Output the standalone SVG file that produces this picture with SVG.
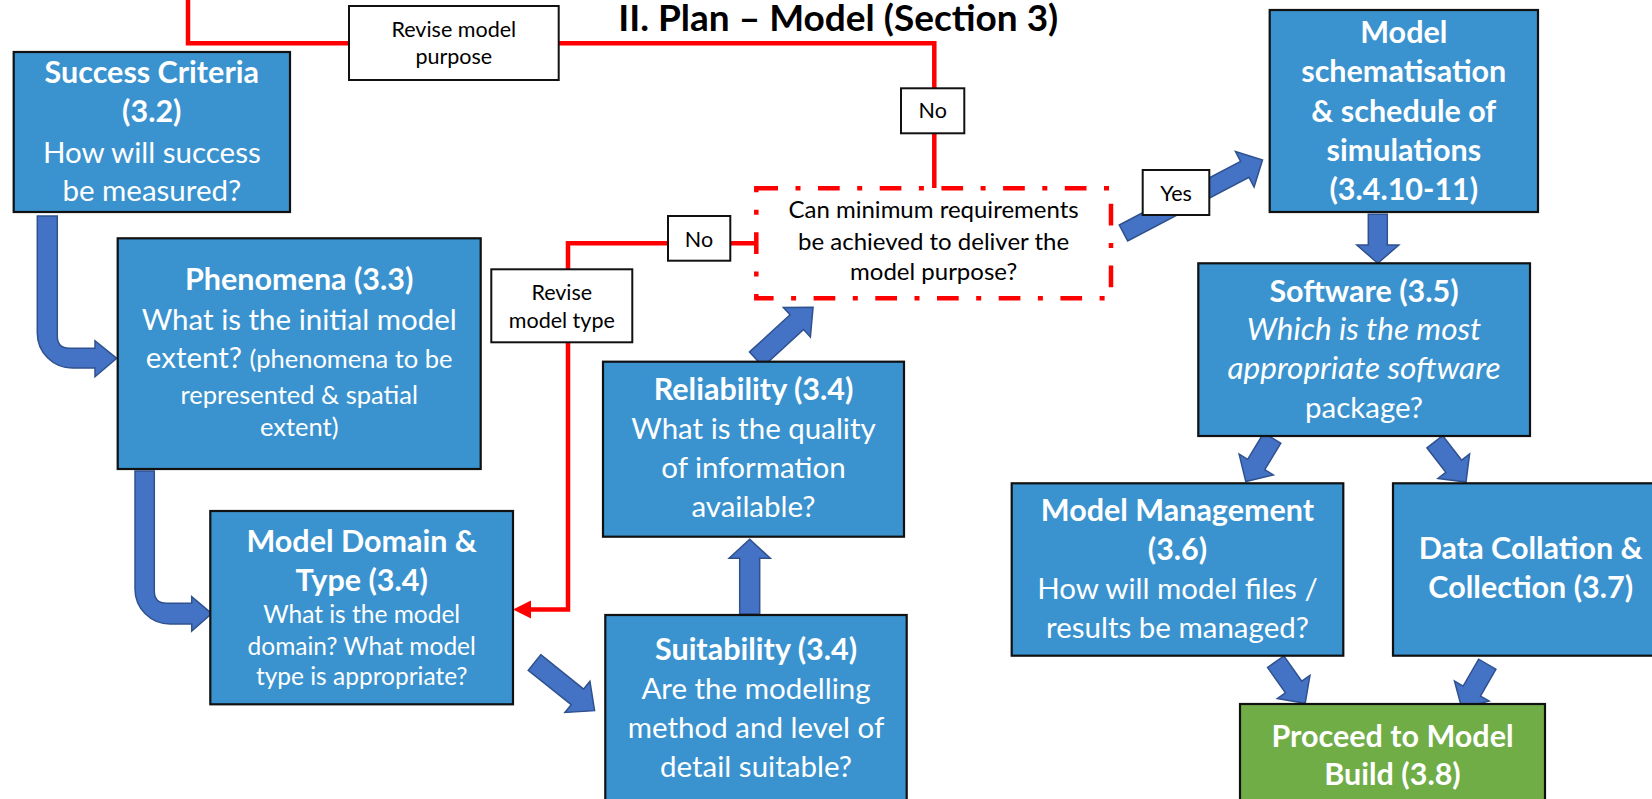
<svg xmlns="http://www.w3.org/2000/svg" width="1652" height="799" viewBox="0 0 1652 799">
<style>
.box{fill:#3A93CF;stroke:#111;stroke-width:2.2}
.green{fill:#70AD47;stroke:#111;stroke-width:2.2}
.lbl{fill:#fff;stroke:#111;stroke-width:2}
.red{fill:none;stroke:#FF0000;stroke-width:4.5}
.dash{fill:none;stroke:#FF0000;stroke-width:4.5;stroke-dasharray:21.7 17.5 5 17.5}
.arr{fill:#4472C4;stroke:#2F528F;stroke-width:1.5;stroke-linejoin:miter}
text{font-family:Lato,"Open Sans","Liberation Sans",sans-serif;text-anchor:middle}
.w{fill:#fff;font-size:29.5px}
.b{font-weight:bold;font-size:30.5px}
.s{font-size:25.5px}
.d{font-size:24.5px}
.i{font-style:italic;font-size:31.5px}
.k{fill:#000;font-size:21.5px}
.q{fill:#000;font-size:24px}
.t{fill:#000;font-size:37px;font-weight:bold}
</style>
<defs>
<path id="a77" d="M0,-10H55V-20L77,0L55,20V10H0Z"/>
<path id="a51" d="M0,-10H31V-20L51,0L31,20V10H0Z"/>
</defs>
<text class="t" x="838.3" y="31">II. Plan – Model (Section 3)</text>
<g id="connectors">
<path class="red" d="M188,-5V43.3H934.3V188"/>
<path class="red" d="M756,243.3H568V609.5H528"/>
<polygon fill="#FF0000" points="513,609.5 531,600.5 531,618.5"/>
<path class="arr" d="M37.3,216H57.3V336Q57.3,348.3 69.5,348.3H95V340.7L116.7,358.3L95,376.7V368H72.3A35,35 0 0 1 37.3,333Z"/>
<path class="arr" d="M135,471H154.3V591Q154.3,603.3 166.6,603.3H191.7V596.7L211.7,613.6L191.7,631V624H170A35,35 0 0 1 135,589Z"/>
<path class="arr" d="M0,-9.5H30.7V-21L49,0L30.7,21V9.5H0Z" transform="translate(1377.8,214.3) rotate(90)"/>
<path class="arr" d="M0,-10H55.7V-20.6L74.7,0L55.7,20.6V10H0Z" transform="translate(749.7,614) rotate(-90)"/>
<use href="#a77" class="arr" transform="translate(756.3,359.3) rotate(-42.5)"/>
<use href="#a77" class="arr" transform="translate(534.5,662.5) rotate(38.7)"/>
<path class="arr" d="M0,-9H137V-20L157,0L137,20V9H0Z" transform="translate(1123.5,233) rotate(-27.7)"/>
<use href="#a51" class="arr" transform="translate(1272.3,438) rotate(121.3)"/>
<use href="#a51" class="arr" transform="translate(1434.8,441.7) rotate(52.3)"/>
<use href="#a51" class="arr" transform="translate(1275.7,661.7) rotate(54.7)"/>
<use href="#a51" class="arr" transform="translate(1487.3,664.2) rotate(120)"/>
</g>
<g id="labels">
<g id="lbl-revise-purpose"><rect class="lbl" x="349" y="6" width="209.7" height="74"/><text class="k" x="453.8" y="36.5">Revise model</text><text class="k" x="453.8" y="64">purpose</text></g>
<g id="lbl-revise-type"><rect class="lbl" x="491.3" y="269.3" width="141" height="73"/><text class="k" x="561.8" y="300">Revise</text><text class="k" x="561.8" y="328">model type</text></g>
<g id="lbl-no-left"><rect class="lbl" x="668" y="216" width="62.3" height="44.7"/><text class="k" x="699" y="246.5">No</text></g>
<g id="lbl-no-top"><rect class="lbl" x="901" y="88.3" width="63.3" height="45"/><text class="k" x="932.7" y="118.3">No</text></g>
<g id="lbl-yes"><rect class="lbl" x="1142.7" y="170" width="66.6" height="45"/><text class="k" x="1176" y="201">Yes</text></g>
</g>
<g id="success">
<rect class="box" x="13.7" y="52" width="276.3" height="160"/>
<text class="w b" x="151.8" y="83">Success Criteria</text>
<text class="w b" x="151.8" y="122">(3.2)</text>
<text class="w" x="151.8" y="162.5">How will success</text>
<text class="w" x="151.8" y="200.5">be measured?</text>
</g>
<g id="phenomena">
<rect class="box" x="117.7" y="238.3" width="363" height="230.7"/>
<text class="w b" x="299.2" y="290">Phenomena (3.3)</text>
<text class="w" x="299.2" y="330">What is the initial model</text>
<text class="w" x="299.2" y="368">extent? <tspan class="s">(phenomena to be</tspan></text>
<text class="w s" x="299.2" y="403.5">represented &amp; spatial</text>
<text class="w s" x="299.2" y="435.5">extent)</text>
</g>
<g id="domain">
<rect class="box" x="210.3" y="511" width="302.7" height="193.3"/>
<text class="w b" x="361.7" y="551.7">Model Domain &amp;</text>
<text class="w b" x="361.7" y="591">Type (3.4)</text>
<text class="w d" x="361.7" y="623">What is the model</text>
<text class="w d" x="361.7" y="655">domain? What model</text>
<text class="w d" x="361.7" y="685">type is appropriate?</text>
</g>
<g id="suitability">
<rect class="box" x="605.3" y="615" width="301.4" height="190"/>
<text class="w b" x="756" y="660">Suitability (3.4)</text>
<text class="w" x="756" y="699.3">Are the modelling</text>
<text class="w" x="756" y="737.7">method and level of</text>
<text class="w" x="756" y="776.7">detail suitable?</text>
</g>
<g id="reliability">
<rect class="box" x="603" y="361.7" width="301" height="175"/>
<text class="w b" x="753.5" y="400">Reliability (3.4)</text>
<text class="w" x="753.5" y="438.5">What is the quality</text>
<text class="w" x="753.5" y="478">of information</text>
<text class="w" x="753.5" y="516.7">available?</text>
</g>
<g id="decision">
<rect class="dash" x="756.3" y="188.3" width="354.7" height="110"/>
<text class="q" x="933.6" y="218.3">Can minimum requirements</text>
<text class="q" x="933.6" y="250">be achieved to deliver the</text>
<text class="q" x="933.6" y="280">model purpose?</text>
</g>
<g id="schematisation">
<rect class="box" x="1269.7" y="10" width="268.3" height="202"/>
<text class="w b" x="1403.8" y="43.3">Model</text>
<text class="w b" x="1403.8" y="82.3">schematisation</text>
<text class="w b" x="1403.8" y="121.7">&amp; schedule of</text>
<text class="w b" x="1403.8" y="160.7">simulations</text>
<text class="w b" x="1403.8" y="200">(3.4.10-11)</text>
</g>
<g id="software">
<rect class="box" x="1198.3" y="263.3" width="331.7" height="172.7"/>
<text class="w b" x="1364" y="301.7">Software (3.5)</text>
<text class="w i" x="1364" y="340">Which is the most</text>
<text class="w i" x="1364" y="379">appropriate software</text>
<text class="w" x="1364" y="418.3">package?</text>
</g>
<g id="management">
<rect class="box" x="1011.7" y="483.3" width="331.6" height="172.4"/>
<text class="w b" x="1177.5" y="520.7">Model Management</text>
<text class="w b" x="1177.5" y="560">(3.6)</text>
<text class="w" x="1177.5" y="599">How will model files /</text>
<text class="w" x="1177.5" y="637.7">results be managed?</text>
</g>
<g id="collation">
<rect class="box" x="1393" y="483.3" width="275" height="172.4"/>
<text class="w b" x="1530.7" y="559.3">Data Collation &amp;</text>
<text class="w b" x="1530.7" y="598.3">Collection (3.7)</text>
</g>
<g id="proceed">
<rect class="green" x="1240" y="704" width="305" height="100"/>
<text class="w b" x="1392.5" y="746.7">Proceed to Model</text>
<text class="w b" x="1392.5" y="785">Build (3.8)</text>
</g>
</svg>
